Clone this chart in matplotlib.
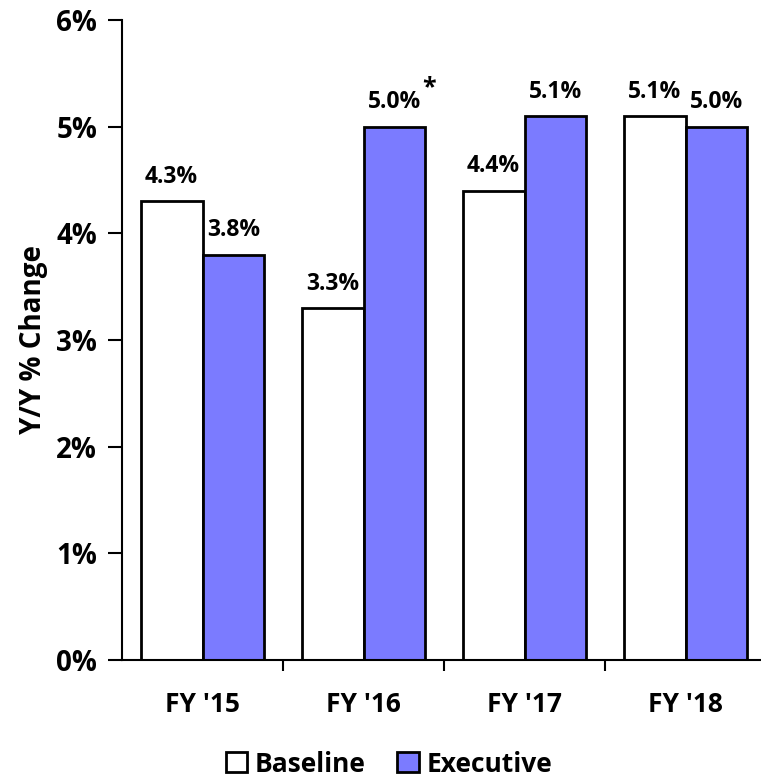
import numpy as np
import matplotlib
matplotlib.use("Agg")
import matplotlib.pyplot as plt
from matplotlib.ticker import FuncFormatter

# Year-over-year change by fiscal year
years = ["FY '15", "FY '16", "FY '17", "FY '18"]
baseline = [4.3, 3.3, 4.4, 5.1]
executive = [3.8, 5.0, 5.1, 5.0]
exec_notes = ["", "*", "", ""]

plt.rcParams['font.family'] = ['Open Sans', 'DejaVu Sans']
plt.rcParams['font.weight'] = 'bold'

fig = plt.figure(figsize=(7.61, 7.76), dpi=100)
ax = fig.add_axes([122 / 761, 116 / 776, 644 / 761, 640 / 776])

x = np.arange(len(years))
w = 0.385
b1 = ax.bar(x - w / 2, baseline, w, color='white', edgecolor='black', linewidth=2, label='Baseline')
b2 = ax.bar(x + w / 2, executive, w, color='#7b7bff', edgecolor='black', linewidth=2, label='Executive')

for bar, v in zip(b1, baseline):
    ax.annotate(f"{v:.1f}%", (bar.get_x() + bar.get_width() / 2, v), xytext=(0, 9),
                textcoords='offset points', ha='center', va='bottom', fontsize=16.5, fontweight='bold')
for bar, v, n in zip(b2, executive, exec_notes):
    ax.annotate(f"{v:.1f}%", (bar.get_x() + bar.get_width() / 2, v), xytext=(0, 9),
                textcoords='offset points', ha='center', va='bottom', fontsize=16.5, fontweight='bold')
    if n:
        ax.annotate(n, (bar.get_x() + bar.get_width() / 2, v), xytext=(25, 19),
                    textcoords='offset points', ha='center', va='bottom', fontsize=18, fontweight='bold')

ax.set_xlim(-0.5, len(years) - 0.5)
ax.set_ylim(0, 6)
ax.set_yticks(range(0, 7))
ax.yaxis.set_major_formatter(FuncFormatter(lambda v, p: f"{v:.0f}%"))
ax.set_xticks(x)
ax.set_xticklabels(years)
ax.set_xticks(np.arange(0.5, len(years)), minor=True)
ax.tick_params(axis='x', which='major', length=0, pad=22, labelsize=19)
ax.tick_params(axis='x', which='minor', length=8, width=1.5, direction='out')
ax.tick_params(axis='y', length=10, width=1.5, labelsize=20, pad=8)
for lbl in ax.get_xticklabels() + ax.get_yticklabels():
    lbl.set_fontweight('bold')

ax.spines['top'].set_visible(False)
ax.spines['right'].set_visible(False)
ax.spines['left'].set_linewidth(1.5)
ax.spines['bottom'].set_linewidth(1.5)
ax.spines['bottom'].set_clip_on(False)

ax.set_ylabel("Y/Y % Change", fontsize=20, fontweight='bold', labelpad=6)

fig.legend(handles=[b1, b2], loc='center', bbox_to_anchor=(389 / 761, 1 - 764 / 776), ncol=2,
           frameon=False, handlelength=0.8, handleheight=0.8, handletextpad=0.3,
           columnspacing=1.2, borderpad=0.1, prop={'weight': 'bold', 'size': 19})

fig.savefig("out.png", dpi=100)
